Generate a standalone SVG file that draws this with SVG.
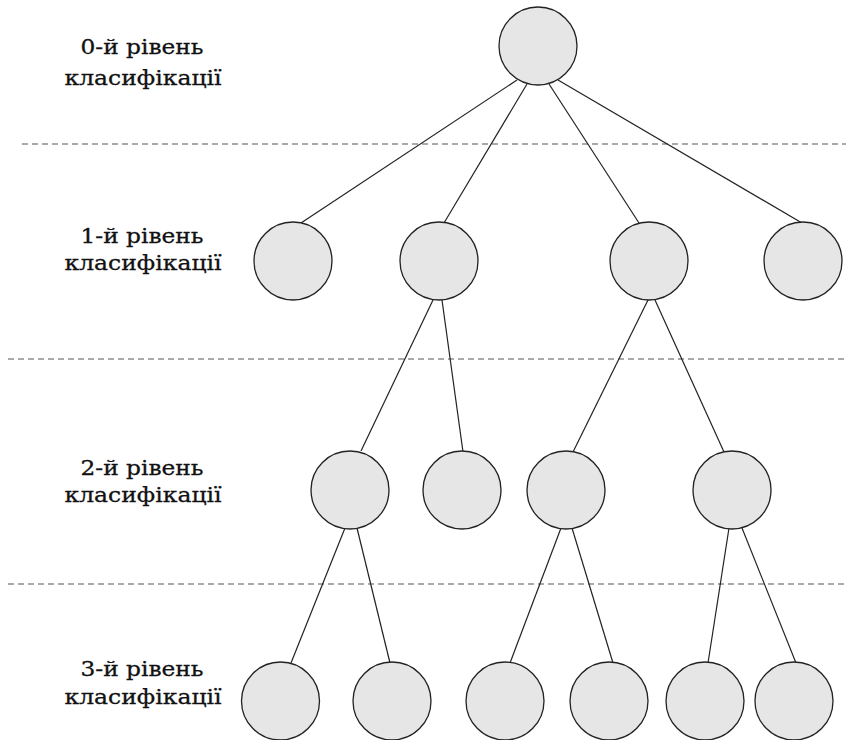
<svg xmlns="http://www.w3.org/2000/svg" width="846" height="740" viewBox="0 0 846 740">
<style>
.node{fill:#e6e6e6;stroke:#222;stroke-width:1.3}
.edge{stroke:#222;stroke-width:1.2;fill:none}
.sep{stroke:#555;stroke-width:1;stroke-dasharray:6 4}
.lbl{font-family:"DejaVu Serif","Liberation Serif",serif;font-size:21px;fill:#111;stroke:#111;stroke-width:0.3;text-anchor:middle}
</style>
<rect width="846" height="740" fill="#fff"/>
<g id="separators">
<line class="sep" x1="22" y1="144" x2="846" y2="144"/>
<line class="sep" x1="8" y1="359" x2="846" y2="359"/>
<line class="sep" x1="8" y1="584" x2="846" y2="584"/>
</g>
<g id="labels">
<text class="lbl" x="142" y="54" textLength="123" lengthAdjust="spacingAndGlyphs">0-й рівень</text>
<text class="lbl" x="143" y="85" textLength="157" lengthAdjust="spacingAndGlyphs">класифікації</text>
<text class="lbl" x="142" y="243" textLength="123" lengthAdjust="spacingAndGlyphs">1-й рівень</text>
<text class="lbl" x="143" y="270" textLength="157" lengthAdjust="spacingAndGlyphs">класифікації</text>
<text class="lbl" x="142" y="475" textLength="123" lengthAdjust="spacingAndGlyphs">2-й рівень</text>
<text class="lbl" x="143" y="502" textLength="157" lengthAdjust="spacingAndGlyphs">класифікації</text>
<text class="lbl" x="142" y="676" textLength="123" lengthAdjust="spacingAndGlyphs">3-й рівень</text>
<text class="lbl" x="143" y="704" textLength="157" lengthAdjust="spacingAndGlyphs">класифікації</text>
</g>
<g id="connectors">
<line class="edge" x1="517" y1="80" x2="301" y2="223"/>
<line class="edge" x1="527" y1="84" x2="444" y2="223"/>
<line class="edge" x1="549" y1="84" x2="639" y2="223"/>
<line class="edge" x1="558" y1="80" x2="802" y2="223"/>
<line class="edge" x1="433" y1="300" x2="361" y2="451"/>
<line class="edge" x1="442" y1="300" x2="463" y2="452"/>
<line class="edge" x1="648" y1="300" x2="573" y2="452"/>
<line class="edge" x1="655" y1="300" x2="724" y2="452"/>
<line class="edge" x1="345" y1="528" x2="291" y2="663"/>
<line class="edge" x1="357" y1="528" x2="390" y2="663"/>
<line class="edge" x1="561" y1="528" x2="510" y2="663"/>
<line class="edge" x1="572" y1="528" x2="613" y2="663"/>
<line class="edge" x1="729" y1="528" x2="708" y2="663"/>
<line class="edge" x1="742" y1="528" x2="796" y2="663"/>
</g>
<g id="n0"><circle class="node" cx="538" cy="46" r="39"/></g>
<g id="n1a"><circle class="node" cx="293" cy="261" r="39"/></g>
<g id="n1b"><circle class="node" cx="439" cy="261" r="39"/></g>
<g id="n1c"><circle class="node" cx="649" cy="261" r="39"/></g>
<g id="n1d"><circle class="node" cx="803" cy="261" r="39"/></g>
<g id="n2a"><circle class="node" cx="350" cy="490" r="39"/></g>
<g id="n2b"><circle class="node" cx="462" cy="490" r="39"/></g>
<g id="n2c"><circle class="node" cx="566" cy="490" r="39"/></g>
<g id="n2d"><circle class="node" cx="732" cy="490" r="39"/></g>
<g id="n3a"><circle class="node" cx="280.5" cy="701" r="39"/></g>
<g id="n3b"><circle class="node" cx="392" cy="701" r="39"/></g>
<g id="n3c"><circle class="node" cx="505" cy="701" r="39"/></g>
<g id="n3d"><circle class="node" cx="609" cy="701" r="39"/></g>
<g id="n3e"><circle class="node" cx="705" cy="701" r="39"/></g>
<g id="n3f"><circle class="node" cx="794" cy="701" r="39"/></g>
</svg>
